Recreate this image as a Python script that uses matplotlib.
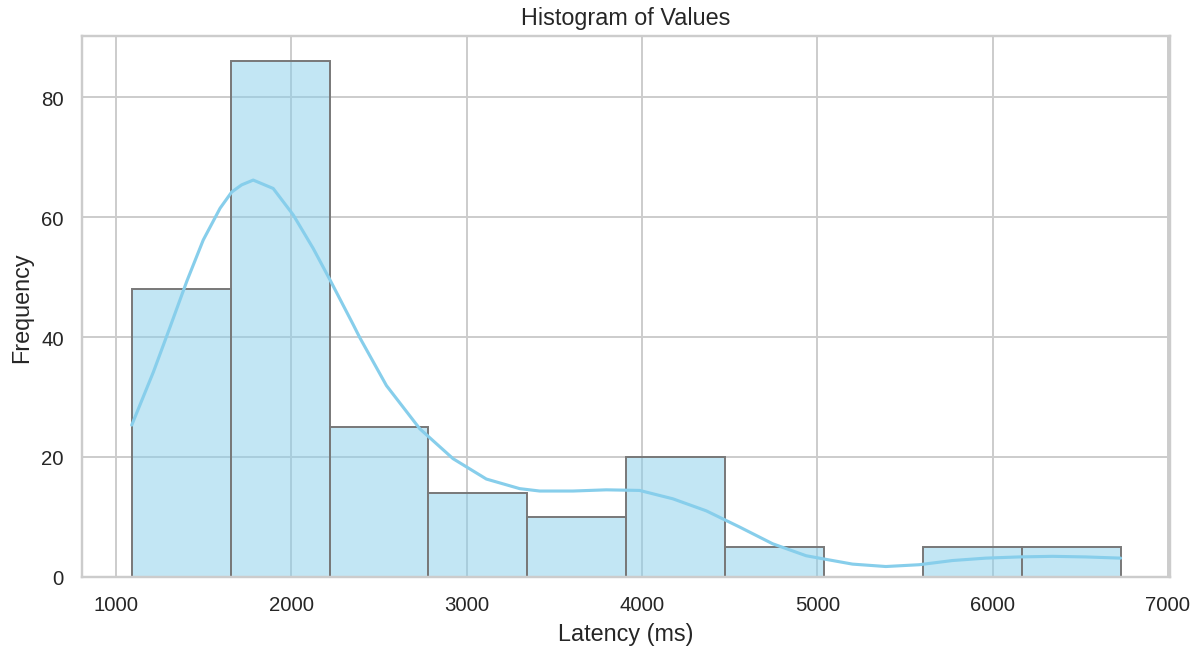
import numpy as np
import matplotlib
matplotlib.use("Agg")
import matplotlib.pyplot as plt
import seaborn as sns

# histogram counts per bin (10 equal-width bins between min and max latency)
lat_min = 1089
lat_max = 6730
counts = [48, 86, 25, 14, 10, 20, 5, 0, 5, 5]

# kde curve (scaled to counts) sampled along the latency range
kde_x = [1089, 1213, 1308, 1403, 1497, 1593, 1659, 1716, 1782, 1896, 2010,
         2124, 2219, 2352, 2390, 2542, 2732, 2922, 3112, 3302, 3416, 3606,
         3796, 3986, 4176, 4366, 4556, 4745, 4936, 5011, 5201, 5391, 5581,
         5771, 5961, 6151, 6341, 6531, 6730]
kde_y = [25.3, 34.2, 41.7, 49.3, 56.2, 61.5, 64.2, 65.4, 66.2, 64.8, 60.4,
         54.8, 49.6, 42.1, 39.9, 31.9, 24.7, 19.7, 16.3, 14.7, 14.3, 14.3,
         14.5, 14.4, 13.0, 11.0, 8.3, 5.5, 3.5, 3.1, 2.1, 1.7, 2.0,
         2.7, 3.1, 3.3, 3.4, 3.3, 3.1]

sns.set_theme(style="whitegrid")
plt.rcParams['font.family'] = ['Liberation Sans', 'DejaVu Sans']

fig = plt.figure(figsize=(1203 / 140, 647 / 140), dpi=140)
ax = fig.add_axes([0.0684, 0.1071, 0.9042, 0.8362])

edges = np.linspace(lat_min, lat_max, len(counts) + 1)
ax.bar(edges[:-1], counts, width=np.diff(edges), align='edge',
       facecolor=(0.529, 0.808, 0.922, 0.5), edgecolor='#787878', linewidth=1)
ax.plot(kde_x, kde_y, color='skyblue', linewidth=1.6)

ax.set_title('Histogram of Values')
ax.set_xlabel('Latency (ms)')
ax.set_ylabel('Frequency')
ax.tick_params(labelsize=10.5)

plt.savefig('out.png', dpi=140)
plt.close()
